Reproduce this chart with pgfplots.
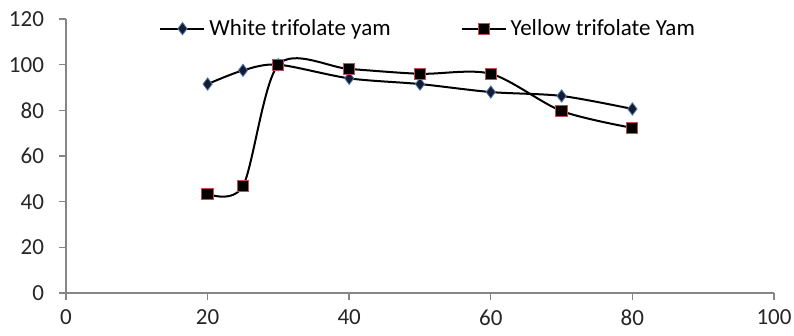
\documentclass[border=0pt]{standalone}
\usepackage{fontspec}
\setmainfont{Carlito}
\usepackage{pgfplots}
\pgfplotsset{compat=1.18}
\definecolor{axgray}{HTML}{868686}
\definecolor{mkblue}{HTML}{4A7EBB}
\definecolor{mkred}{HTML}{C0504D}
\definecolor{diafill}{HTML}{1A1A2E}
\begin{document}
\begin{tikzpicture}
\begin{axis}[
  name=ax,
  scale only axis,
  width=354pt, height=137pt,
  xmin=0, xmax=100, ymin=0, ymax=120,
  xtick={0,20,...,100}, ytick={0,20,...,120},
  axis x line=bottom, axis y line=left,
  axis line style={axgray, line width=0.7pt, -},
  tick style={axgray, line width=0.7pt},
  tick align=outside,
  major tick length=3.5pt,
  tick label style={font=\fontsize{11.5}{13}\selectfont, text=black!85},
  /pgf/number format/assume math mode=true,
  xticklabel style={yshift=-1.5pt},
  yticklabel style={xshift=-4pt},
  legend style={
    at={(0.513,1.03)}, anchor=north, draw=none, fill=none,
    legend columns=2,
    font=\fontsize{11.5}{13}\selectfont,
    /tikz/every even column/.append style={column sep=33pt},
  },
  legend cell align=left,
  legend image code/.code={
    \draw[#1] (0pt,0pt) -- (22pt,0pt);
    \draw[#1, only marks] plot coordinates {(11pt,0pt)};
  },
  clip=false,
]
\addplot[black, line width=1pt, smooth, tension=0.5,
  mark=diamond*, mark size=3.1pt,
  mark options={fill=diafill, draw=mkblue, line width=0.4pt, solid}]
  coordinates {(20,91.5) (25,97.5) (30,100) (40,94) (50,91.5) (60,88) (70,86.3) (80,80.6)};
\addlegendentry{White trifolate yam}
\addplot[black, line width=1pt, smooth, tension=0.5,
  mark=square*, mark size=2.8pt,
  mark options={fill=black, draw=mkred, line width=0.5pt, solid}]
  coordinates {(20,43.4) (25,46.9) (30,100) (40,98.1) (50,96) (60,96) (70,79.7) (80,72.3)};
\addlegendentry{Yellow trifolate Yam}
\end{axis}
\pgfresetboundingbox
\path (ax.south west) ++(-33pt,-21.5pt) coordinate (bl);
\path (ax.north east) ++(10pt,9.5pt) coordinate (tr);
\path (bl) rectangle (tr);
\end{tikzpicture}
\end{document}
